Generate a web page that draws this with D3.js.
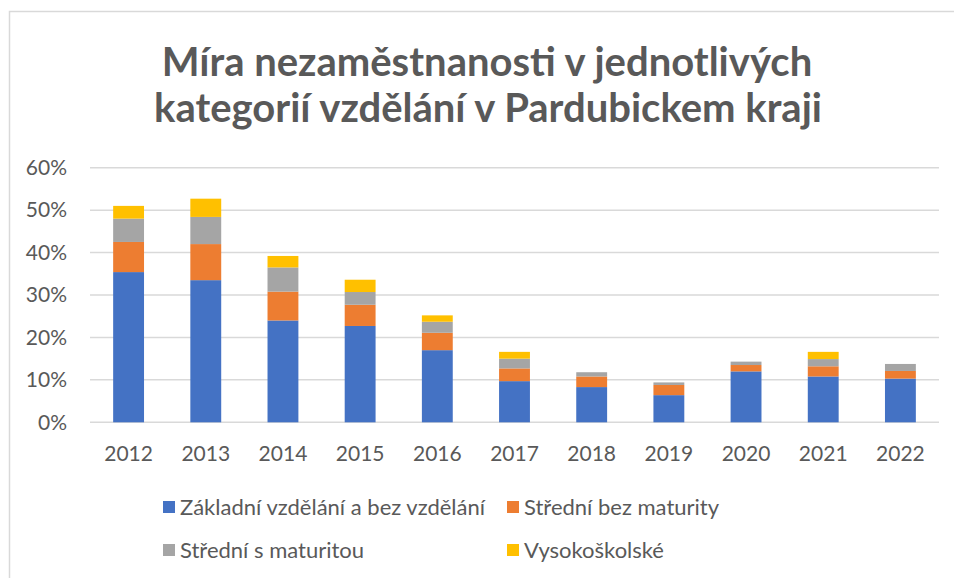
<!DOCTYPE html>
<html>
<head>
<meta charset="utf-8">
<script src="https://cdn.jsdelivr.net/npm/d3@7"></script>
<style>
    body { margin: 0; background: #fff; }
    text { font-family: Lato, "Open Sans", sans-serif; fill: #595959; }
</style>
</head>
<body>
<div id="canvas"></div>
<script>
// years on the x axis
var years = ["2012", "2013", "2014", "2015", "2016", "2017", "2018", "2019", "2020", "2021", "2022"];

// series names (legend order = stack order)
var seriesNames = ["Základní vzdělání a bez vzdělání", "Střední bez maturity", "Střední s maturitou", "Vysokoškolské"];

// values (percent)
var zakladni   = [35.4, 33.5, 24.0, 22.7, 17.0, 9.7, 8.3, 6.4, 12.0, 10.8, 10.3];
var bezMat     = [7.1, 8.5, 6.8, 5.0, 4.1, 3.0, 2.5, 2.4, 1.5, 2.4, 1.8];
var sMat       = [5.5, 6.4, 5.7, 3.0, 2.6, 2.3, 1.0, 0.6, 0.8, 1.7, 1.65];
var vysoko     = [3.0, 4.3, 2.7, 2.9, 1.5, 1.6, 0.0, 0.0, 0.0, 1.7, 0.0];

var yTicks = [0, 10, 20, 30, 40, 50, 60];
var colors = ["#4472C4", "#ED7D31", "#A5A5A5", "#FFC000"];

var W = 954, H = 578;
var svg = d3.select("#canvas").append("svg")
    .attr("width", W)
    .attr("height", H);

// chart border (only top & left visible in the picture)
svg.append("rect")
    .attr("x", 9.5).attr("y", 11.5)
    .attr("width", W + 20).attr("height", H + 20)
    .attr("fill", "none")
    .attr("stroke", "#d9d9d9")
    .attr("stroke-width", 1.5);

// title
var title = svg.append("text")
    .attr("text-anchor", "middle")
    .style("font-weight", "bold")
    .style("font-size", "40px");
title.append("tspan").attr("x", 487).attr("y", 76).text("Míra nezaměstnanosti v jednotlivých");
title.append("tspan").attr("x", 488).attr("y", 122).text("kategorií vzdělání v Pardubickem kraji");

var xScale = d3.scaleBand()
    .domain(years)
    .range([90, 939])
    .paddingInner(0.6)
    .paddingOuter(0.3);

var yScale = d3.scaleLinear()
    .domain([0, 60])
    .range([422.3, 167.7]);

// gridlines
svg.append("g")
    .selectAll("line")
    .data(yTicks)
    .enter().append("line")
    .attr("x1", 90).attr("x2", 939)
    .attr("y1", function(d) { return yScale(d); })
    .attr("y2", function(d) { return yScale(d); })
    .attr("stroke", "#d9d9d9")
    .attr("stroke-width", 1.5);

// y axis labels
var yAxis = d3.axisLeft(yScale)
    .tickValues(yTicks)
    .tickSize(0)
    .tickPadding(0)
    .tickFormat(function(d) { return d + "%"; });
svg.append("g")
    .attr("transform", "translate(67,0)")
    .call(yAxis)
    .call(function(g) { g.select(".domain").remove(); })
    .selectAll("text")
    .attr("font-family", null)
    .style("font-size", "21px");

// stacked data
var table = years.map(function(y, i) {
    return { year: y, s0: zakladni[i], s1: bezMat[i], s2: sMat[i], s3: vysoko[i] };
});
var stack = d3.stack().keys(["s0", "s1", "s2", "s3"]);
var layers = stack(table);

svg.append("g")
    .selectAll("g")
    .data(layers)
    .enter().append("g")
        .attr("fill", function(d, i) { return colors[i]; })
    .selectAll("rect")
    .data(function(d) { return d; })
    .enter().append("rect")
        .attr("x", function(d) { return xScale(d.data.year); })
        .attr("width", xScale.bandwidth())
        .attr("y", function(d) { return yScale(d[1]); })
        .attr("height", function(d) { return yScale(d[0]) - yScale(d[1]); });

// x axis labels
var xAxis = d3.axisBottom(xScale).tickSize(0).tickPadding(0);
svg.append("g")
    .attr("transform", "translate(0,445)")
    .call(xAxis)
    .call(function(g) { g.select(".domain").remove(); })
    .selectAll("text")
    .attr("font-family", null)
    .attr("dy", "0.76em")
    .style("font-size", "21px");

// legend
var legendPos = [[163, 507], [507, 507], [163, 550], [507, 550]];
var legend = svg.append("g")
    .selectAll("g")
    .data(seriesNames)
    .enter().append("g")
    .attr("transform", function(d, i) { return "translate(" + legendPos[i][0] + "," + legendPos[i][1] + ")"; });
legend.append("rect")
    .attr("x", 0).attr("y", -6)
    .attr("width", 12).attr("height", 12)
    .attr("fill", function(d, i) { return colors[i]; });
legend.append("text")
    .attr("x", 17)
    .attr("dy", "0.35em")
    .style("font-size", "22px")
    .text(function(d) { return d; });
</script>
</body>
</html>
